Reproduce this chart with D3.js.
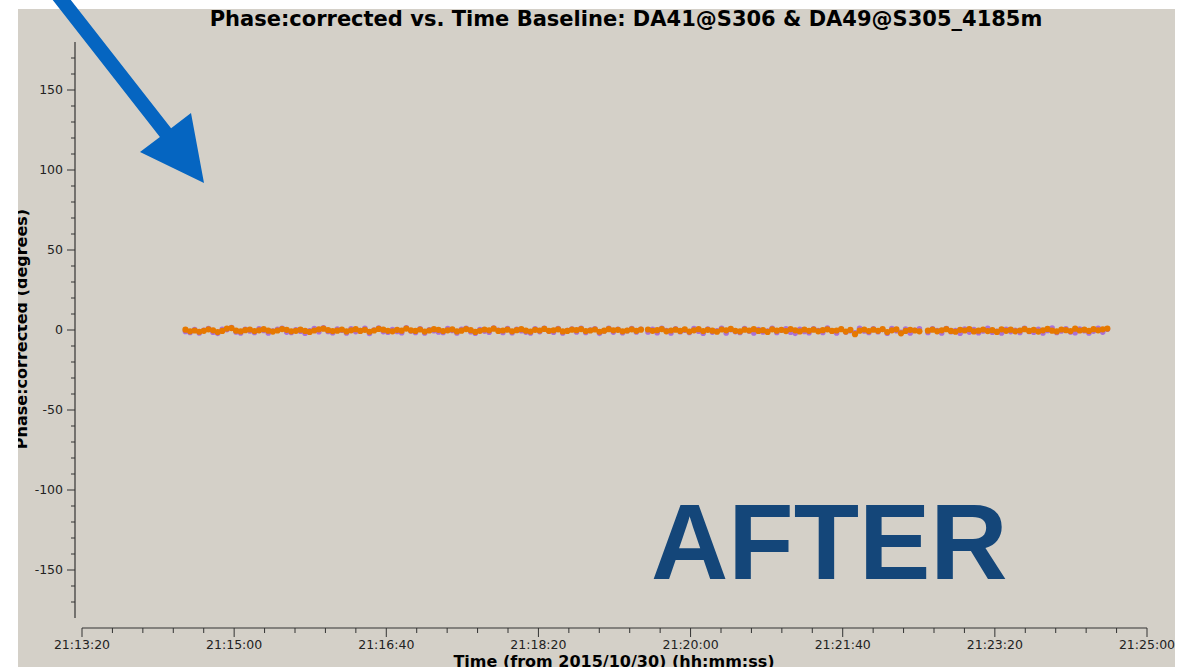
<!DOCTYPE html>
<html>
<head>
<meta charset="utf-8">
<script src="https://cdn.jsdelivr.net/npm/d3@7/dist/d3.min.js"></script>
<style>
  html, body { margin: 0; padding: 0; background: #ffffff; }
  svg { display: block; }
</style>
</head>
<body>
<script>
// ---------------- data ----------------
const titleText = "Phase:corrected vs. Time Baseline: DA41@S306 & DA49@S305_4185m";
const xLabel = "Time (from 2015/10/30) (hh:mm:ss)";
const yLabel = "Phase:corrected (degrees)";
const annotationText = "AFTER";

const xDomain = ["21:13:20", "21:25:00"];
const xTickLabels = ["21:13:20", "21:15:00", "21:16:40", "21:18:20", "21:20:00", "21:21:40", "21:23:20", "21:25:00"];
const yDomain = [-180, 180];
const yTickValues = [-150, -100, -50, 0, 50, 100, 150];

const integrationSec = 3.024;
const segmentStarts = ["21:14:28", "21:19:32", "21:22:36"];

const orangeSeg1 = [0.2,-0.8,-0.3,-1.1,-0.5,0.4,-0.2,-1.3,-0.6,0.9,
1.2,-0.4,-0.9,-0.1,0.3,-0.7,-0.2,0.5,-0.4,-1.0,
-0.3,0.6,0.1,-0.8,-0.5,0.2,-0.6,-1.2,-0.3,0.4,
0.8,-0.1,-0.7,-0.4,0.3,-0.9,-0.2,0.5,-0.6,0.1,
-1.1,-0.3,0.7,0.2,-0.5,-0.8,0.1,-0.4,0.9,-0.2,
-0.6,0.3,-1.0,-0.3,0.5,0.1,-0.7,-0.2,0.4,-0.9,
-0.4,0.6,-0.1,-1.2,-0.5,0.3,-0.2,0.8,-0.6,-0.3,
0.2,-0.8,-0.1,0.5,-0.4,-1.0,0.1,-0.3,0.7,-0.5,
-0.2,0.4,-0.9,-0.6,0.2,-0.1,0.6,-0.7,-0.3,0.3,
-1.1,-0.4,0.5,-0.2,0.1,-0.8,-0.3,0.4,-0.5,0.2];
const purpleSeg1 = [-0.9,-1.6,0.3,-1.9,-0.2,0.9,-1.4,-2.1,0.4,0.2,
1.6,-1.2,-1.8,0.5,-0.6,-1.5,0.8,-0.3,-1.9,-0.7,
0.4,1.1,-1.3,-1.6,0.2,-0.8,-2.0,-0.5,0.9,-1.1,
1.3,-0.9,-1.7,0.6,-0.2,-1.8,0.7,-1.0,-0.4,1.0,
-2.2,-0.1,1.2,-1.0,-1.4,0.3,-0.9,-1.7,1.4,-0.6,
-1.5,0.8,-1.9,0.2,-0.4,-1.2,-1.6,0.9,-0.3,-1.8,
0.5,1.0,-1.1,-2.0,0.3,-0.7,-1.4,1.2,-0.2,-1.5,
0.9,-1.7,0.4,-0.5,-1.3,-1.9,0.7,-1.0,1.1,-0.8,
-1.4,0.9,-1.8,-0.3,0.6,-1.2,1.0,-1.6,-0.1,0.8,
-2.1,-0.6,1.1,-1.3,0.5,-1.7,-0.4,0.9,-1.2,0.4];
const orangeSeg2 = [0.3,-0.5,-0.1,0.6,-0.8,-0.3,0.2,-0.6,0.4,-1.0,
-0.2,0.5,-0.7,0.1,-0.4,-1.1,0.3,-0.2,0.7,-0.5,
-0.9,0.2,-0.3,0.5,-0.6,-0.1,-1.2,0.4,-0.4,0.1,
-0.7,0.6,-0.2,-0.9,0.3,-0.5,0.2,-0.8,-0.1,0.4,
-0.6,-0.3,0.5,-1.0,0.1,-2.6,-0.4,0.3,-0.7,0.2,
-0.5,0.6,-1.3,-0.2,0.4,-2.1,-0.6,0.1,-0.3,-0.8];
const purpleSeg2 = [-1.2,0.4,-1.7,1.0,-0.4,-1.9,0.8,-1.1,-0.2,-1.6,
0.9,-0.8,-2.0,0.6,-1.3,-0.5,1.1,-1.8,0.2,-1.0,
-1.5,0.9,-0.7,-1.9,0.3,-1.2,-0.6,1.0,-1.6,-0.2,
0.7,-1.4,-2.1,0.4,-0.9,-1.7,0.8,-0.3,-1.5,1.2,
-0.8,-1.9,0.5,-1.2,-0.4,-1.8,1.1,-0.6,-1.6,0.7,
-1.1,0.3,-2.0,0.9,-0.5,-1.4,0.6,-1.8,-0.2,0.8];
const orangeSeg3 = [-0.4,0.2,-0.8,-0.2,0.5,-0.6,-1.1,0.1,-0.3,0.6,
-0.9,-0.4,0.3,-0.7,-0.1,-1.2,0.4,-0.5,0.2,-0.8,
-0.3,0.5,-0.6,0.1,-1.0,-0.2,0.7,-0.4,-0.9,0.3,
-0.1,-0.7,0.8,-0.3,0.2,-0.6,0.5,-0.2,0.4,0.9];
const purpleSeg3 = [-1.5,0.7,-0.3,-1.9,0.9,-1.1,-0.4,-2.0,0.6,-1.3,
0.3,-1.7,-0.6,1.0,-1.4,-0.8,-1.9,0.5,-1.0,-0.2,
-1.6,1.1,-0.9,-1.4,0.4,-1.8,-0.3,1.2,-1.5,-0.6,
0.8,-1.2,-1.7,0.6,-0.4,-1.9,-0.7,1.0,-1.3,0.5];

// ---------------- setup ----------------
const W = 1193, H = 667;
const parseT = d3.utcParse("%Y-%m-%d %H:%M:%S");
const toDate = s => parseT("2015-10-30 " + s);

const svg = d3.select("body").append("svg").attr("width", W).attr("height", H);

const panel = { x: 18, y: 9, w: 1157, h: 658 };
svg.append("rect").attr("x", panel.x).attr("y", panel.y).attr("width", panel.w).attr("height", panel.h).attr("fill", "#d4d0c8");
svg.append("clipPath").attr("id", "panelClip").append("rect")
  .attr("x", panel.x).attr("y", panel.y).attr("width", panel.w).attr("height", panel.h);

const x = d3.scaleUtc().domain(xDomain.map(toDate)).range([82, 1147]);
const y = d3.scaleLinear().domain(yDomain).range([618, 42]);

const font = "'DejaVu Sans', sans-serif";
const axisColor = "#333333";

// ---------------- Y axis ----------------
const yAxisX = 75;
const gy = svg.append("g").attr("transform", `translate(${yAxisX},0)`);
gy.append("line").attr("x1", 0).attr("x2", 0).attr("y1", y(180)).attr("y2", y(-180)).attr("stroke", axisColor).attr("stroke-width", 1.2);
const yMinor = d3.range(-170, 171, 10).filter(v => v % 50 !== 0);
gy.selectAll("line.ymin").data(yMinor).join("line").attr("class", "ymin")
  .attr("x1", -4).attr("x2", 0).attr("y1", d => y(d)).attr("y2", d => y(d)).attr("stroke", axisColor);
gy.selectAll("line.ymaj").data(yTickValues).join("line").attr("class", "ymaj")
  .attr("x1", -8).attr("x2", 0).attr("y1", d => y(d)).attr("y2", d => y(d)).attr("stroke", axisColor);
gy.selectAll("text").data(yTickValues).join("text")
  .attr("x", -12).attr("y", d => y(d)).attr("dy", "0.35em")
  .attr("text-anchor", "end").attr("font-family", font).attr("font-size", 12.5).attr("fill", "#222")
  .text(d => d);

// ---------------- X axis ----------------
const xAxisY = 628;
const gx = svg.append("g").attr("transform", `translate(0,${xAxisY})`);
gx.append("line").attr("x1", x.range()[0]).attr("x2", x.range()[1]).attr("y1", 0).attr("y2", 0).attr("stroke", axisColor).attr("stroke-width", 1.2);
const xMajor = xTickLabels.map(toDate);
const [t0, t1] = x.domain();
const xMinor = d3.range(+t0, +t1 + 1, 20000).map(ms => new Date(ms)).filter(d => ((+d - +t0) / 1000) % 100 !== 0);
gx.selectAll("line.xmin").data(xMinor).join("line").attr("class", "xmin")
  .attr("x1", d => x(d)).attr("x2", d => x(d)).attr("y1", 0).attr("y2", 5).attr("stroke", axisColor);
gx.selectAll("line.xmaj").data(xMajor).join("line").attr("class", "xmaj")
  .attr("x1", d => x(d)).attr("x2", d => x(d)).attr("y1", 0).attr("y2", 9).attr("stroke", axisColor);
gx.selectAll("text").data(xMajor).join("text")
  .attr("x", d => x(d)).attr("y", 21)
  .attr("text-anchor", "middle").attr("font-family", font).attr("font-size", 12.5).attr("fill", "#222")
  .text((d, i) => xTickLabels[i]);

// ---------------- data ----------------
function buildSeries(segs) {
  const pts = [];
  segs.forEach((vals, si) => {
    const start = toDate(segmentStarts[si]);
    vals.forEach((v, i) => pts.push({ t: new Date(+start + i * integrationSec * 1000), v }));
  });
  return pts;
}
const purple = buildSeries([purpleSeg1, purpleSeg2, purpleSeg3]);
const orange = buildSeries([orangeSeg1, orangeSeg2, orangeSeg3]);

const gd = svg.append("g").attr("clip-path", "url(#panelClip)");
gd.selectAll("circle.p").data(purple).join("circle").attr("class", "p")
  .attr("cx", d => x(d.t)).attr("cy", d => y(d.v)).attr("r", 2.8).attr("fill", "#a970d8");
gd.selectAll("circle.o").data(orange).join("circle").attr("class", "o")
  .attr("cx", d => x(d.t)).attr("cy", d => y(d.v)).attr("r", 3.1).attr("fill", "#e67800");

// ---------------- labels ----------------
svg.append("text").attr("x", 626).attr("y", 26).attr("text-anchor", "middle")
  .attr("font-family", font).attr("font-weight", "bold").attr("font-size", 21).attr("fill", "#000")
  .text(titleText);
svg.append("text").attr("x", 614).attr("y", 667).attr("text-anchor", "middle")
  .attr("font-family", font).attr("font-weight", "bold").attr("font-size", 16).attr("fill", "#000")
  .text(xLabel);
svg.append("g").attr("clip-path", "url(#panelClip)").append("text")
  .attr("transform", "translate(26.5,329) rotate(-90)").attr("text-anchor", "middle")
  .attr("font-family", font).attr("font-weight", "bold").attr("font-size", 16).attr("fill", "#000")
  .text(yLabel);

// ---------------- annotations ----------------
svg.append("text").attr("x", 651).attr("y", 579)
  .attr("font-family", "'Liberation Sans', Arial, sans-serif").attr("font-weight", "bold").attr("font-size", 107)
  .attr("fill", "#144679").text(annotationText);

const arrowPts = [[19.4,-42.6],[159.9,136.9],[140,152],[204,183],[191,113],[171.1,128.2],[30.6,-51.4]];
svg.append("polygon").attr("points", arrowPts.map(p => p.join(",")).join(" ")).attr("fill", "#0565c1");
</script>
</body>
</html>
